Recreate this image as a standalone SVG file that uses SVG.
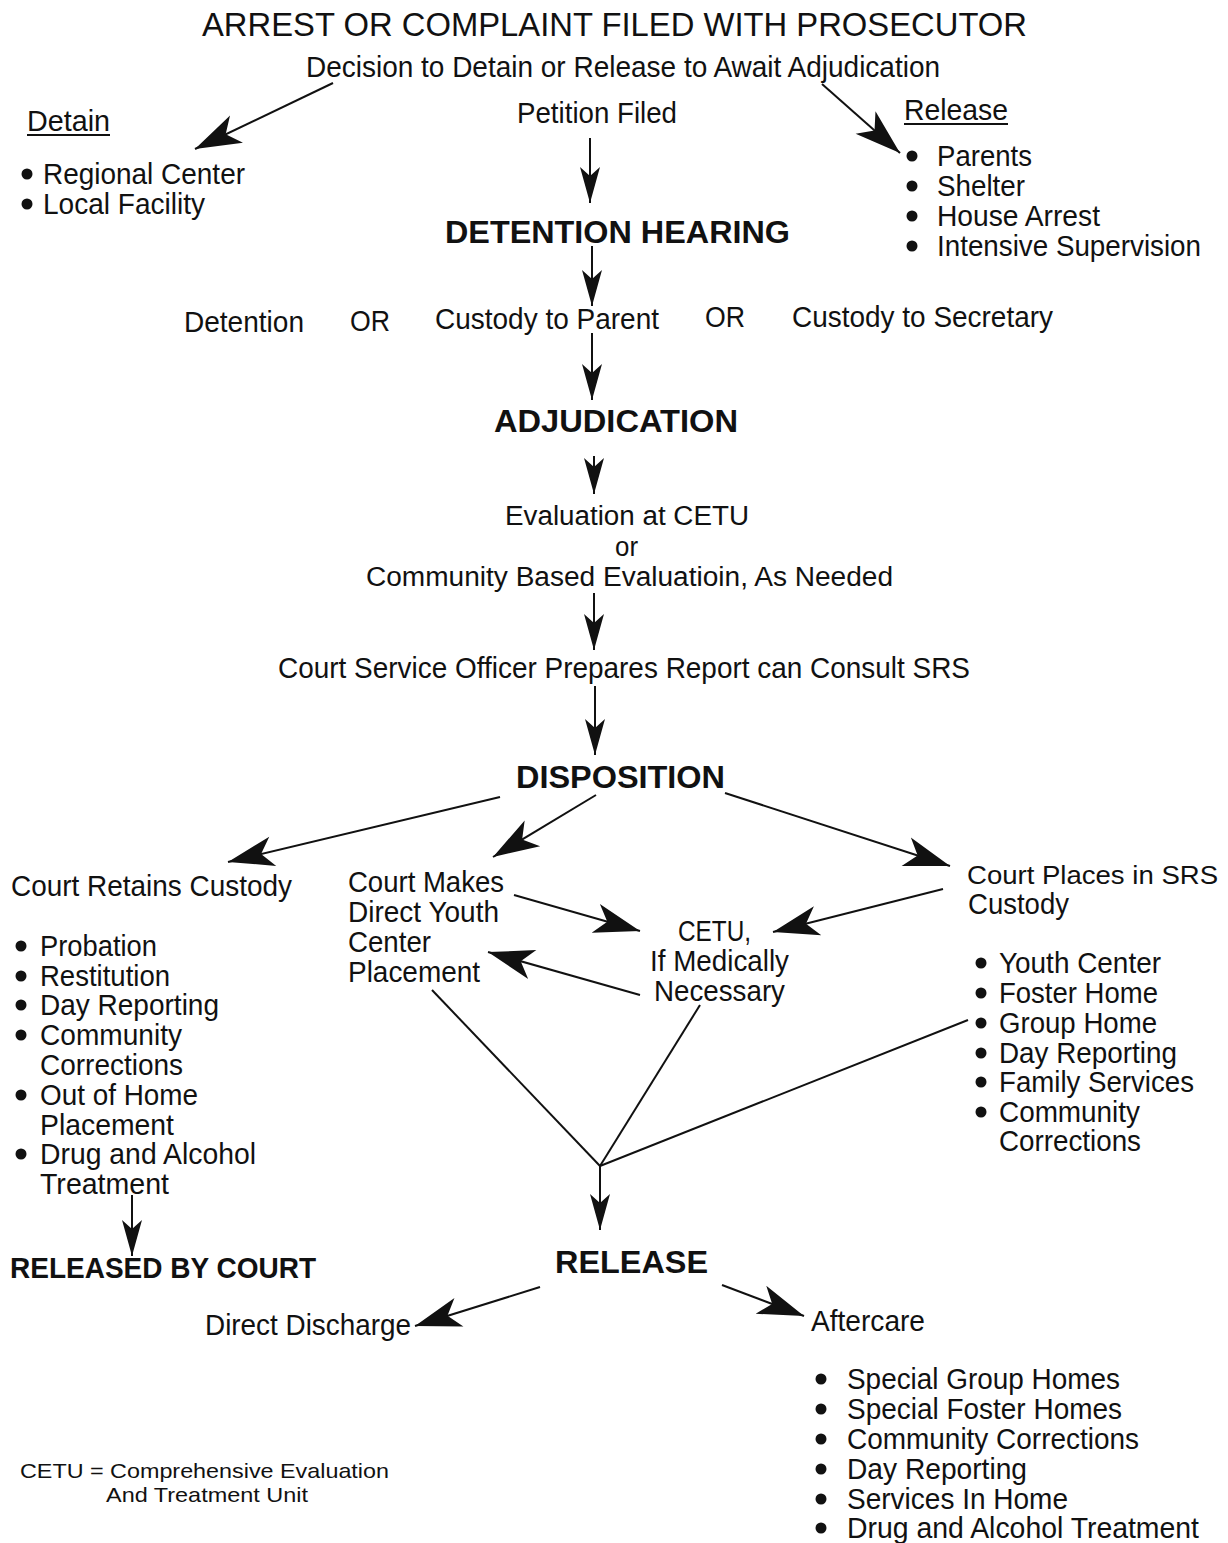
<svg xmlns="http://www.w3.org/2000/svg" width="1228" height="1543" viewBox="0 0 1228 1543">
<style>
.t{font-family:"Liberation Sans",Arial,sans-serif;font-size:29px;fill:#111}
.h{font-size:33px}
.b{font-weight:bold;font-size:32px}
.r{font-size:29px}
.s{font-size:27px}
.n{font-size:26px}
.f{font-size:21px}
.c{stroke:#111;stroke-width:2;fill:none}
.u{stroke:#111;stroke-width:2}
.bul{fill:#111}
</style>
<defs>
<marker id="ab" markerUnits="userSpaceOnUse" markerWidth="50" markerHeight="34" refX="46" refY="15" orient="auto" overflow="visible">
<path d="M0,0 L46,15 L0,30 L12,15 Z" fill="#111"/>
</marker>
<marker id="av" markerUnits="userSpaceOnUse" markerWidth="38" markerHeight="22" refX="36" refY="10" orient="auto" overflow="visible">
<path d="M0,0 L36,10 L0,20 L9,10 Z" fill="#111"/>
</marker>
</defs>
<rect width="1228" height="1543" fill="#fff"/>

<g id="arrest">
<text class="t h" x="202" y="36" textLength="825" lengthAdjust="spacingAndGlyphs">ARREST OR COMPLAINT FILED WITH PROSECUTOR</text>
<text class="t" x="306" y="77" textLength="634" lengthAdjust="spacingAndGlyphs">Decision to Detain or Release to Await Adjudication</text>
</g>
<g id="detain">
<text class="t" x="27" y="131" textLength="83" lengthAdjust="spacingAndGlyphs">Detain</text>
<line class="u" x1="27" y1="135" x2="110" y2="135"/>
<circle class="bul" cx="27" cy="174" r="5.5"/>
<text class="t" x="43" y="184" textLength="202" lengthAdjust="spacingAndGlyphs">Regional Center</text>
<circle class="bul" cx="27" cy="204" r="5.5"/>
<text class="t" x="43" y="214" textLength="162" lengthAdjust="spacingAndGlyphs">Local Facility</text>
</g>
<g id="petition">
<text class="t" x="517" y="123" textLength="160" lengthAdjust="spacingAndGlyphs">Petition Filed</text>
</g>
<g id="release-options">
<text class="t" x="904" y="120" textLength="104" lengthAdjust="spacingAndGlyphs">Release</text>
<line class="u" x1="904" y1="124" x2="1008" y2="124"/>
<circle class="bul" cx="912" cy="156" r="5.5"/>
<text class="t" x="937" y="166" textLength="95" lengthAdjust="spacingAndGlyphs">Parents</text>
<circle class="bul" cx="912" cy="186" r="5.5"/>
<text class="t" x="937" y="196" textLength="88" lengthAdjust="spacingAndGlyphs">Shelter</text>
<circle class="bul" cx="912" cy="216" r="5.5"/>
<text class="t" x="937" y="226" textLength="163" lengthAdjust="spacingAndGlyphs">House Arrest</text>
<circle class="bul" cx="912" cy="246" r="5.5"/>
<text class="t" x="937" y="256" textLength="264" lengthAdjust="spacingAndGlyphs">Intensive Supervision</text>
</g>
<g id="detention-hearing">
<text class="t b" x="445" y="243" textLength="345" lengthAdjust="spacingAndGlyphs">DETENTION HEARING</text>
</g>
<g id="hearing-outcomes">
<text class="t" x="184" y="332" textLength="120" lengthAdjust="spacingAndGlyphs">Detention</text>
<text class="t" x="350" y="331" textLength="40" lengthAdjust="spacingAndGlyphs">OR</text>
<text class="t" x="435" y="329" textLength="224" lengthAdjust="spacingAndGlyphs">Custody to Parent</text>
<text class="t" x="705" y="327" textLength="40" lengthAdjust="spacingAndGlyphs">OR</text>
<text class="t" x="792" y="327" textLength="261" lengthAdjust="spacingAndGlyphs">Custody to Secretary</text>
</g>
<g id="adjudication">
<text class="t b" x="494" y="432" textLength="244" lengthAdjust="spacingAndGlyphs">ADJUDICATION</text>
</g>
<g id="evaluation">
<text class="t s" x="505" y="525" textLength="244" lengthAdjust="spacingAndGlyphs">Evaluation at CETU</text>
<text class="t s" x="615" y="556" textLength="23" lengthAdjust="spacingAndGlyphs">or</text>
<text class="t s" x="366" y="586" textLength="527" lengthAdjust="spacingAndGlyphs">Community Based Evaluatioin, As Needed</text>
</g>
<g id="cso-report">
<text class="t" x="278" y="678" textLength="692" lengthAdjust="spacingAndGlyphs">Court Service Officer Prepares Report can Consult SRS</text>
</g>
<g id="disposition">
<text class="t b" x="516" y="788" textLength="209" lengthAdjust="spacingAndGlyphs">DISPOSITION</text>
</g>
<g id="court-retains">
<text class="t" x="11" y="896" textLength="281" lengthAdjust="spacingAndGlyphs">Court Retains Custody</text>
<circle class="bul" cx="21" cy="946" r="5.5"/>
<text class="t" x="40" y="956" textLength="117" lengthAdjust="spacingAndGlyphs">Probation</text>
<circle class="bul" cx="21" cy="976" r="5.5"/>
<text class="t" x="40" y="986" textLength="130" lengthAdjust="spacingAndGlyphs">Restitution</text>
<circle class="bul" cx="21" cy="1005" r="5.5"/>
<text class="t" x="40" y="1015" textLength="179" lengthAdjust="spacingAndGlyphs">Day Reporting</text>
<circle class="bul" cx="21" cy="1035" r="5.5"/>
<text class="t" x="40" y="1045" textLength="142" lengthAdjust="spacingAndGlyphs">Community</text>
<text class="t" x="40" y="1075" textLength="143" lengthAdjust="spacingAndGlyphs">Corrections</text>
<circle class="bul" cx="21" cy="1095" r="5.5"/>
<text class="t" x="40" y="1105" textLength="158" lengthAdjust="spacingAndGlyphs">Out of Home</text>
<text class="t" x="40" y="1135" textLength="134" lengthAdjust="spacingAndGlyphs">Placement</text>
<circle class="bul" cx="21" cy="1154" r="5.5"/>
<text class="t" x="40" y="1164" textLength="216" lengthAdjust="spacingAndGlyphs">Drug and Alcohol</text>
<text class="t" x="40" y="1194" textLength="129" lengthAdjust="spacingAndGlyphs">Treatment</text>
</g>
<g id="court-makes">
<text class="t" x="348" y="892" textLength="156" lengthAdjust="spacingAndGlyphs">Court Makes</text>
<text class="t" x="348" y="922" textLength="151" lengthAdjust="spacingAndGlyphs">Direct Youth</text>
<text class="t" x="348" y="952" textLength="83" lengthAdjust="spacingAndGlyphs">Center</text>
<text class="t" x="348" y="982" textLength="132" lengthAdjust="spacingAndGlyphs">Placement</text>
</g>
<g id="cetu">
<text class="t" x="678" y="941" textLength="73" lengthAdjust="spacingAndGlyphs">CETU,</text>
<text class="t" x="650" y="971" textLength="139" lengthAdjust="spacingAndGlyphs">If Medically</text>
<text class="t" x="654" y="1001" textLength="131" lengthAdjust="spacingAndGlyphs">Necessary</text>
</g>
<g id="court-places">
<text class="t n" x="967" y="884" textLength="251" lengthAdjust="spacingAndGlyphs">Court Places in SRS</text>
<text class="t" x="968" y="914" textLength="101" lengthAdjust="spacingAndGlyphs">Custody</text>
<circle class="bul" cx="981" cy="963" r="5.5"/>
<text class="t" x="999" y="973" textLength="162" lengthAdjust="spacingAndGlyphs">Youth Center</text>
<circle class="bul" cx="981" cy="993" r="5.5"/>
<text class="t" x="999" y="1003" textLength="159" lengthAdjust="spacingAndGlyphs">Foster Home</text>
<circle class="bul" cx="981" cy="1023" r="5.5"/>
<text class="t" x="999" y="1033" textLength="158" lengthAdjust="spacingAndGlyphs">Group Home</text>
<circle class="bul" cx="981" cy="1053" r="5.5"/>
<text class="t" x="999" y="1063" textLength="178" lengthAdjust="spacingAndGlyphs">Day Reporting</text>
<circle class="bul" cx="981" cy="1082" r="5.5"/>
<text class="t" x="999" y="1092" textLength="195" lengthAdjust="spacingAndGlyphs">Family Services</text>
<circle class="bul" cx="981" cy="1112" r="5.5"/>
<text class="t" x="999" y="1122" textLength="141" lengthAdjust="spacingAndGlyphs">Community</text>
<text class="t" x="999" y="1151" textLength="142" lengthAdjust="spacingAndGlyphs">Corrections</text>
</g>
<g id="released-by-court">
<text class="t b r" x="10" y="1278" textLength="306" lengthAdjust="spacingAndGlyphs">RELEASED BY COURT</text>
</g>
<g id="release">
<text class="t b" x="555" y="1273" textLength="153" lengthAdjust="spacingAndGlyphs">RELEASE</text>
</g>
<g id="direct-discharge">
<text class="t" x="205" y="1335" textLength="206" lengthAdjust="spacingAndGlyphs">Direct Discharge</text>
</g>
<g id="aftercare">
<text class="t" x="811" y="1331" textLength="114" lengthAdjust="spacingAndGlyphs">Aftercare</text>
<circle class="bul" cx="821" cy="1379" r="5.5"/>
<text class="t" x="847" y="1389" textLength="273" lengthAdjust="spacingAndGlyphs">Special Group Homes</text>
<circle class="bul" cx="821" cy="1409" r="5.5"/>
<text class="t" x="847" y="1419" textLength="275" lengthAdjust="spacingAndGlyphs">Special Foster Homes</text>
<circle class="bul" cx="821" cy="1439" r="5.5"/>
<text class="t" x="847" y="1449" textLength="292" lengthAdjust="spacingAndGlyphs">Community Corrections</text>
<circle class="bul" cx="821" cy="1469" r="5.5"/>
<text class="t" x="847" y="1479" textLength="180" lengthAdjust="spacingAndGlyphs">Day Reporting</text>
<circle class="bul" cx="821" cy="1499" r="5.5"/>
<text class="t" x="847" y="1509" textLength="221" lengthAdjust="spacingAndGlyphs">Services In Home</text>
<circle class="bul" cx="821" cy="1528" r="5.5"/>
<text class="t" x="847" y="1538" textLength="352" lengthAdjust="spacingAndGlyphs">Drug and Alcohol Treatment</text>
</g>
<g id="legend">
<text class="t f" x="20" y="1478" textLength="369" lengthAdjust="spacingAndGlyphs">CETU = Comprehensive Evaluation</text>
<text class="t f" x="106" y="1502" textLength="202" lengthAdjust="spacingAndGlyphs">And Treatment Unit</text>
</g>

<g id="connectors">
<line class="c" x1="333" y1="83" x2="195" y2="149" marker-end="url(#ab)"/>
<line class="c" x1="822" y1="84" x2="900" y2="153" marker-end="url(#ab)"/>
<line class="c" x1="590" y1="138" x2="590" y2="203" marker-end="url(#av)"/>
<line class="c" x1="592" y1="246" x2="592" y2="306" marker-end="url(#av)"/>
<line class="c" x1="592" y1="333" x2="592" y2="400" marker-end="url(#av)"/>
<line class="c" x1="594" y1="456" x2="594" y2="494" marker-end="url(#av)"/>
<line class="c" x1="594" y1="593" x2="594" y2="650" marker-end="url(#av)"/>
<line class="c" x1="595" y1="686" x2="595" y2="755" marker-end="url(#av)"/>
<line class="c" x1="500" y1="797" x2="228" y2="862" marker-end="url(#ab)"/>
<line class="c" x1="596" y1="795" x2="493" y2="857" marker-end="url(#ab)"/>
<line class="c" x1="725" y1="793" x2="950" y2="866" marker-end="url(#ab)"/>
<line class="c" x1="514" y1="895" x2="640" y2="931" marker-end="url(#ab)"/>
<line class="c" x1="943" y1="889" x2="773" y2="932" marker-end="url(#ab)"/>
<line class="c" x1="640" y1="995" x2="488" y2="952" marker-end="url(#ab)"/>
<line class="c" x1="432" y1="990" x2="600" y2="1166"/>
<line class="c" x1="700" y1="1005" x2="600" y2="1166"/>
<line class="c" x1="968" y1="1020" x2="600" y2="1166"/>
<line class="c" x1="600" y1="1166" x2="600" y2="1230" marker-end="url(#av)"/>
<line class="c" x1="132" y1="1195" x2="132" y2="1256" marker-end="url(#av)"/>
<line class="c" x1="540" y1="1287" x2="415" y2="1326" marker-end="url(#ab)"/>
<line class="c" x1="722" y1="1285" x2="804" y2="1316" marker-end="url(#ab)"/>
</g>
</svg>
